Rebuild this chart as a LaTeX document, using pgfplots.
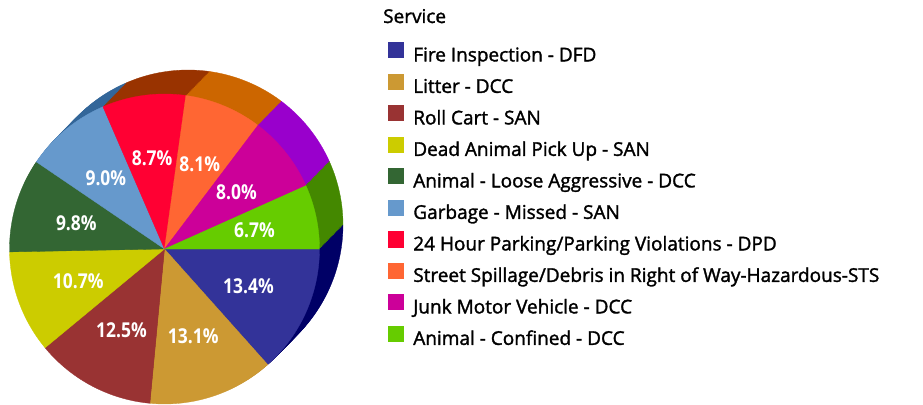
\documentclass[border=0pt]{standalone}
\usepackage{pgfplots}
\pgfplotsset{compat=1.18}
\usepackage{pgfplotstable}
\usepackage{fontspec}
\setmainfont{Open Sans}[FakeBold=1.6]
\newfontfamily\legfont{Open Sans}[FakeBold=1.6]
\newfontfamily\labelfont{Open Sans Bold}[FakeStretch=0.85]

\definecolor{fA}{HTML}{333399}\definecolor{sA}{HTML}{000066}
\definecolor{fB}{HTML}{CC9933}\definecolor{sB}{HTML}{996633}
\definecolor{fC}{HTML}{993333}\definecolor{sC}{HTML}{660000}
\definecolor{fD}{HTML}{CCCC00}\definecolor{sD}{HTML}{999900}
\definecolor{fE}{HTML}{336633}\definecolor{sE}{HTML}{003300}
\definecolor{fF}{HTML}{6699CC}\definecolor{sF}{HTML}{336699}
\definecolor{fG}{HTML}{FF0033}\definecolor{sG}{HTML}{993300}
\definecolor{fH}{HTML}{FF6633}\definecolor{sH}{HTML}{CC6600}
\definecolor{fI}{HTML}{CC0099}\definecolor{sI}{HTML}{9900CC}
\definecolor{fJ}{HTML}{66CC00}\definecolor{sJ}{HTML}{448800}

\pgfplotstableread[col sep=comma]{
name,pct,front,side
Fire Inspection - DFD,13.4,fA,sA
Litter - DCC,13.1,fB,sB
Roll Cart - SAN,12.5,fC,sC
Dead Animal Pick Up - SAN,10.7,fD,sD
Animal - Loose Aggressive - DCC,9.8,fE,sE
Garbage - Missed - SAN,9.0,fF,sF
24 Hour Parking/Parking Violations - DPD,8.7,fG,sG
Street Spillage/Debris in Right of Way-Hazardous-STS,8.1,fH,sH
Junk Motor Vehicle - DCC,8.0,fI,sI
Animal - Confined - DCC,6.7,fJ,sJ
}\pietable

\tikzset{pielabel/.style={text=white, inner sep=0pt, font=\labelfont\fontsize{20.5}{24}\selectfont}}

\def\cx{164.5}\def\cy{155}\def\R{155}\def\dx{23.5}\def\dy{24}

\begin{document}
\begin{tikzpicture}
\begin{axis}[
  scale only axis, width=923pt, height=404pt,
  xmin=0, xmax=923, ymin=0, ymax=404,
  hide axis, clip=false,
  legend image code/.code={\fill[#1] (0pt,-0.75pt) rectangle (15pt,14.25pt);},
  legend style={at={(axis description cs:0.42037,0.8948)}, anchor=north west,
    draw=none, fill=none, inner sep=0pt, outer sep=0pt,
    row sep=8.6pt, column sep=10pt,
    font=\legfont\fontsize{19}{22}\selectfont,
    nodes={inner sep=0pt, text height=13pt, text depth=4pt},
    cells={anchor=west}},
]
\path[draw=none] (0,0) rectangle (923,404);
% side (extrusion) layers, back to front
\pgfplotsforeachungrouped \k in {1,...,20}{%
  \def\cum{0}%
  \pgfmathsetmacro\tfac{(21-\k)/20}%
  \pgfmathsetmacro\ox{\cx+\tfac*\dx}%
  \pgfmathsetmacro\oy{\cy+\tfac*\dy}%
  \pgfplotsforeachungrouped \i in {0,...,9}{%
    \pgfplotstablegetelem{\i}{pct}\of\pietable \let\pctv=\pgfplotsretval
    \pgfplotstablegetelem{\i}{side}\of\pietable \let\sidec=\pgfplotsretval
    \pgfmathsetmacro\angB{-3.6*\cum}%
    \pgfmathsetmacro\cum{\cum+\pctv}%
    \pgfmathsetmacro\angA{-3.6*\cum}%
    \edef\tmp{\noexpand\addplot[forget plot, draw=\sidec, fill=\sidec, line width=0.3pt, domain=\angA:\angB, samples=31] ({\ox+\R*cos(x)},{\oy+\R*sin(x)}) -- (\ox,\oy) -- cycle;}%
    \tmp
  }%
}
% front faces
\def\cum{0}%
\pgfplotsforeachungrouped \i in {0,...,9}{%
  \pgfplotstablegetelem{\i}{pct}\of\pietable \let\pctv=\pgfplotsretval
  \pgfplotstablegetelem{\i}{front}\of\pietable \let\frontc=\pgfplotsretval
  \pgfplotstablegetelem{\i}{name}\of\pietable \let\namev=\pgfplotsretval
  \pgfmathsetmacro\angB{-3.6*\cum}%
  \pgfmathsetmacro\cum{\cum+\pctv}%
  \pgfmathsetmacro\angA{-3.6*\cum}%
  \edef\tmp{\noexpand\addplot[draw=\frontc, fill=\frontc, line width=0.3pt, domain=\angA:\angB, samples=41] ({\cx+\R*cos(x)},{\cy+\R*sin(x)}) -- (\cx,\cy) -- cycle; \noexpand\addlegendentry{\namev}}%
  \tmp
}
% percentage labels
\def\cum{0}%
\pgfplotsforeachungrouped \i in {0,...,9}{%
  \pgfplotstablegetelem{\i}{pct}\of\pietable \let\pctv=\pgfplotsretval
  \pgfmathsetmacro\angB{-3.6*\cum}%
  \pgfmathsetmacro\cum{\cum+\pctv}%
  \pgfmathsetmacro\angA{-3.6*\cum}%
  \pgfmathsetmacro\lx{\cx+92*cos((\angA+\angB)/2)}%
  \pgfmathsetmacro\ly{\cy+92*sin((\angA+\angB)/2)}%
  \edef\tmp{\noexpand\node[pielabel] at (\lx,\ly) {\pctv\noexpand\%};}%
  \tmp
}
\node[anchor=base west, inner sep=0pt, font=\legfont\fontsize{19}{22}\selectfont] at (383,381) {Service};
\end{axis}
\end{tikzpicture}
\end{document}
